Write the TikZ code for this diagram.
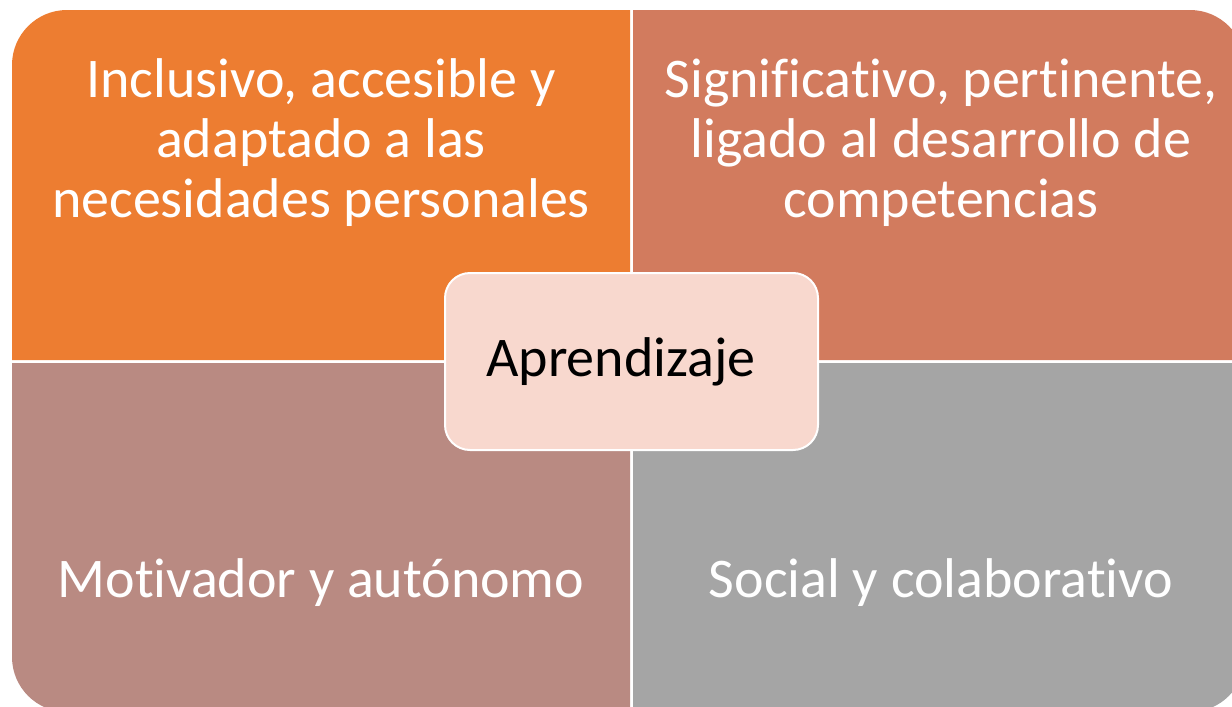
\documentclass[tikz,border=0pt]{standalone}
\usepackage{fontspec}
\setmainfont{Carlito}[Ligatures=NoCommon]
\usepackage{tikz}
\definecolor{tlfill}{HTML}{ED7D31}
\definecolor{trfill}{HTML}{D27B5E}
\definecolor{blfill}{HTML}{B98A82}
\definecolor{brfill}{HTML}{A5A5A5}
\definecolor{hubfill}{HTML}{F8D8CE}

\begin{document}
\begin{tikzpicture}[x=1pt,y=1pt,
    quadtext/.style={text=white, align=center, anchor=base,
      font=\fontsize{56}{60}\selectfont},
    hub/.style={draw=white, line width=2pt, fill=hubfill, rounded corners=25pt,
      minimum width=373pt, minimum height=177pt, inner sep=0pt,
      font=\fontsize{56}{60}\selectfont}]
    \useasboundingbox (0,0) rectangle (1232,-707);
    \clip (0,0) rectangle (1232,-707);
    % the four quadrants
    \fill[tlfill] (12,-360) -- (12,-65) arc[start angle=180,end angle=90,radius=55]
      -- (630,-10) -- (630,-360) -- cycle;
    \fill[trfill] (633,-10) -- (1190,-10) arc[start angle=90,end angle=0,radius=55]
      -- (1245,-360) -- (633,-360) -- cycle;
    \fill[blfill] (12,-363) -- (630,-363) -- (630,-712) -- (67,-712)
      arc[start angle=270,end angle=180,radius=55] -- cycle;
    \fill[brfill] (633,-363) -- (1245,-363) -- (1245,-657)
      arc[start angle=0,end angle=-90,radius=55] -- (633,-712) -- cycle;
    % texts (base = last line)
    \node[quadtext] (TL) at (321,-217) {Inclusivo, accesible y\\adaptado a las\\necesidades personales};
    \node[quadtext] (TR) at (941,-217) {Significativo, pertinente,\\ligado al desarrollo de\\competencias};
    \node[quadtext] (BL) at (321,-597) {Motivador y autónomo};
    \node[quadtext] (BR) at (941,-597) {Social y colaborativo};
    % centre
    \node[hub] (A) at (631.5,-361.5) {Aprendizaje\hspace*{21pt}};
\end{tikzpicture}
\end{document}
